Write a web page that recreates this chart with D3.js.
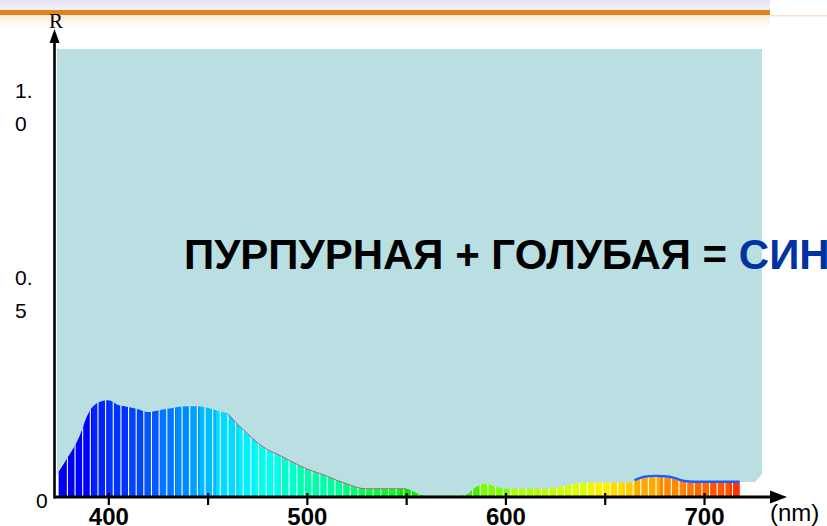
<!DOCTYPE html>
<html>
<head>
<meta charset="utf-8">
<script src="https://cdn.jsdelivr.net/npm/d3@7"></script>
<style>
  html, body { margin: 0; padding: 0; background: #fff; overflow: hidden; }
  svg { display: block; }
</style>
</head>
<body>
<svg id="chart" width="827" height="526"></svg>
<script>
// Spectral reflectance curve R(λ), wavelengths in nm
const wavelengths = [375,380,385,390,395,400,405,410,415,420,425,430,435,440,445,450,455,460,465,470,
  475,480,485,490,495,500,505,510,515,520,525,530,535,540,545,550,555,560,565,570,575,580,585,590,595,
  600,605,610,615,620,625,630,635,640,645,650,655,660,665,670,675,680,685,690,695,700,705,710,715,718];
const reflectance = [0.065,0.105,0.150,0.215,0.242,0.248,0.236,0.231,0.225,0.218,0.222,0.226,0.231,0.233,
  0.233,0.229,0.221,0.214,0.187,0.163,0.140,0.122,0.110,0.097,0.084,0.072,0.063,0.054,0.043,0.034,0.025,
  0.021,0.021,0.021,0.021,0.021,0.011,0.003,0.003,0.003,0.003,0.006,0.025,0.034,0.026,0.021,0.021,0.021,
  0.021,0.021,0.024,0.028,0.034,0.036,0.037,0.037,0.037,0.037,0.040,0.049,0.051,0.050,0.046,0.038,0.036,
  0.036,0.036,0.036,0.036,0.036];

// Axis ticks and labels
const xTickValues = [400, 450, 500, 550, 600, 650, 700];
const xTickLabels = ["400", "", "500", "", "600", "", "700"];
const yTickValues = [1, 0.5];
const yTickLines = [["1.", "0"], ["0.", "5"]];

// Title text
const titleParts = ["ПУРПУРНАЯ + ГОЛУБАЯ = ", "СИНЯЯ"];

// Rainbow colouring of the spectrum band (start wavelength of each colour band)
const spectrumBandStart = [375,383,392,400,410,418,426,434,440,446,454,466,474,486,496,511,519,527,537,547,
  554,569,587,602,617,625,633,643,652,659,665,678,690,695,703,713];
const spectrumBandColor = ["#0000ee","#0000ff","#0022ff","#0033ff","#0044ff","#0055ff","#0077ff","#0088ff",
  "#00a0ff","#00bbff","#00ddff","#00f0ff","#00ffee","#00ffcc","#00ffaa","#00ff99","#00ff77","#00ff44",
  "#00ff22","#00ee00","#22ee00","#44ee00","#77ff00","#aaff00","#bbff00","#ccff00","#ddff00","#ffee00",
  "#ffdd00","#ffcc00","#ffaa00","#ff8800","#ff7700","#ff6600","#ff5500","#ff3300"];

const svg = d3.select("#chart");
const W = 827, H = 526;

const x = d3.scaleLinear().domain([400, 700]).range([108.3, 704]);
const y = d3.scaleLinear().domain([0, 1]).range([497, 107]);

const defs = svg.append("defs");

// ---- slide header strip ----
const lav = defs.append("linearGradient").attr("id", "lav").attr("x1", 0).attr("y1", 0).attr("x2", 0).attr("y2", 1);
lav.append("stop").attr("offset", 0).attr("stop-color", "#e5e3f4");
lav.append("stop").attr("offset", 1).attr("stop-color", "#f3f2fb");
const peach = defs.append("linearGradient").attr("id", "peach").attr("x1", 0).attr("y1", 0).attr("x2", 0).attr("y2", 1);
peach.append("stop").attr("offset", 0).attr("stop-color", "#fbe9d6");
peach.append("stop").attr("offset", 1).attr("stop-color", "#ffffff");

svg.append("rect").attr("x", 0).attr("y", 0).attr("width", 770).attr("height", 10).attr("fill", "url(#lav)");
svg.append("rect").attr("x", 0).attr("y", 15).attr("width", 770).attr("height", 12).attr("fill", "url(#peach)");
svg.append("rect").attr("x", 0).attr("y", 10).attr("width", 770).attr("height", 5).attr("fill", "#e4811f");
svg.append("rect").attr("x", 770).attr("y", 15).attr("width", W - 770).attr("height", 1.5).attr("fill", "#fbe2cb");

// ---- pale blue plotting panel ----
const x0 = x(wavelengths[0]), x1 = x(wavelengths[wavelengths.length - 1]);
svg.append("path")
  .attr("d", d3.line()([[57, 49], [762, 49], [762, 474], [755, 482], [x1, 482], [x1, 496],
    [x0, 496], [x0, 471], [57, 476]]) + "Z")
  .attr("fill", "#badfe3");

// ---- spectrum area ----
const data = wavelengths.map((w, i) => ({ w, r: reflectance[i] }));

const grad = defs.append("linearGradient").attr("id", "spectrum")
  .attr("gradientUnits", "userSpaceOnUse")
  .attr("x1", x0).attr("x2", x1).attr("y1", 0).attr("y2", 0);
const frac = w => (x(w) - x0) / (x1 - x0);
spectrumBandStart.forEach((w, i) => {
  const end = i + 1 < spectrumBandStart.length ? spectrumBandStart[i + 1] : wavelengths[wavelengths.length - 1];
  grad.append("stop").attr("offset", frac(w)).attr("stop-color", spectrumBandColor[i]);
  grad.append("stop").attr("offset", frac(end)).attr("stop-color", spectrumBandColor[i]);
});

const area = d3.area()
  .x(d => x(d.w))
  .y0(y(0))
  .y1(d => y(d.r))
  .curve(d3.curveMonotoneX);

defs.append("clipPath").attr("id", "specClip")
  .append("path").attr("d", area(data));

svg.append("path").attr("d", area(data)).attr("fill", "url(#spectrum)");

// thin white separators between the spectral stripes
const stripes = d3.range(379.4, wavelengths[wavelengths.length - 1], 3.85);
svg.append("g").attr("clip-path", "url(#specClip)")
  .selectAll("line").data(stripes).join("line")
  .attr("x1", d => x(d)).attr("x2", d => x(d))
  .attr("y1", y(0)).attr("y2", y(0.3))
  .attr("stroke", "#ffffff").attr("stroke-width", 1.1);

// coloured rims along parts of the curve
const rim = d3.line().x(d => x(d.w)).y(d => y(d.r)).curve(d3.curveMonotoneX);
svg.append("path").attr("d", rim(data.filter(d => d.w >= 460 && d.w <= 550)))
  .attr("fill", "none").attr("stroke", "#cc3355").attr("stroke-width", 1).attr("opacity", 0.75);
svg.append("path").attr("d", rim(data.filter(d => d.w >= 665)))
  .attr("transform", "translate(0,-1.2)")
  .attr("fill", "none").attr("stroke", "#1e5cff").attr("stroke-width", 2.4);

// ---- title ----
const title = svg.append("text")
  .attr("x", 184).attr("y", 269)
  .attr("font-family", "'Liberation Sans', Arial, sans-serif")
  .attr("font-weight", "bold").attr("font-size", 42);
title.append("tspan").attr("fill", "#000").text(titleParts[0]);
title.append("tspan").attr("fill", "#00339f").text(titleParts[1]);

// ---- x axis ----
const xAxis = d3.axisBottom(x)
  .tickValues(xTickValues)
  .tickFormat((d, i) => xTickLabels[i])
  .tickSizeOuter(0);
const gx = svg.append("g").attr("transform", `translate(0,${y(0)})`).call(xAxis);
gx.select(".domain").remove();
gx.selectAll(".tick line").attr("y1", -4).attr("y2", 8).attr("stroke", "#000").attr("stroke-width", 2.2);
gx.selectAll(".tick text")
  .attr("y", 28).attr("dy", 0)
  .attr("font-family", "'Liberation Sans', Arial, sans-serif")
  .attr("font-weight", "bold").attr("font-size", 24).attr("fill", "#000");

svg.append("line").attr("x1", 54).attr("x2", 772).attr("y1", y(0)).attr("y2", y(0))
  .attr("stroke", "#000").attr("stroke-width", 3);
svg.append("path").attr("d", d3.line()([[770, y(0) - 6.5], [787, y(0)], [770, y(0) + 6.5]]) + "Z")
  .attr("fill", "#000");
svg.append("text").attr("x", 770).attr("y", 521)
  .attr("font-family", "'Liberation Sans', Arial, sans-serif")
  .attr("font-size", 24).attr("fill", "#000").text("(nm)");

// ---- y axis ----
svg.append("line").attr("x1", 54.5).attr("x2", 54.5).attr("y1", 40).attr("y2", 498.5)
  .attr("stroke", "#000").attr("stroke-width", 2.6);
svg.append("path").attr("d", d3.line()([[49.5, 43], [54.5, 29], [59.5, 43]]) + "Z")
  .attr("fill", "#000");
svg.append("text").attr("x", 56).attr("y", 28).attr("text-anchor", "middle")
  .attr("font-family", "'Liberation Serif', 'Times New Roman', serif")
  .attr("font-size", 21).attr("fill", "#000").text("R");

const yLabelShift = [-9, -17];
const gy = svg.append("g");
yTickValues.forEach((v, i) => {
  const t = gy.append("text")
    .attr("font-family", "'Liberation Sans', Arial, sans-serif")
    .attr("font-size", 21).attr("fill", "#000");
  yTickLines[i].forEach((line, j) => {
    t.append("tspan").attr("x", 15).attr("y", y(v) + yLabelShift[i] + j * 33).text(line);
  });
});
svg.append("text").attr("x", 36).attr("y", 508)
  .attr("font-family", "'Liberation Sans', Arial, sans-serif")
  .attr("font-size", 21).attr("fill", "#000").text("0");
</script>
</body>
</html>
